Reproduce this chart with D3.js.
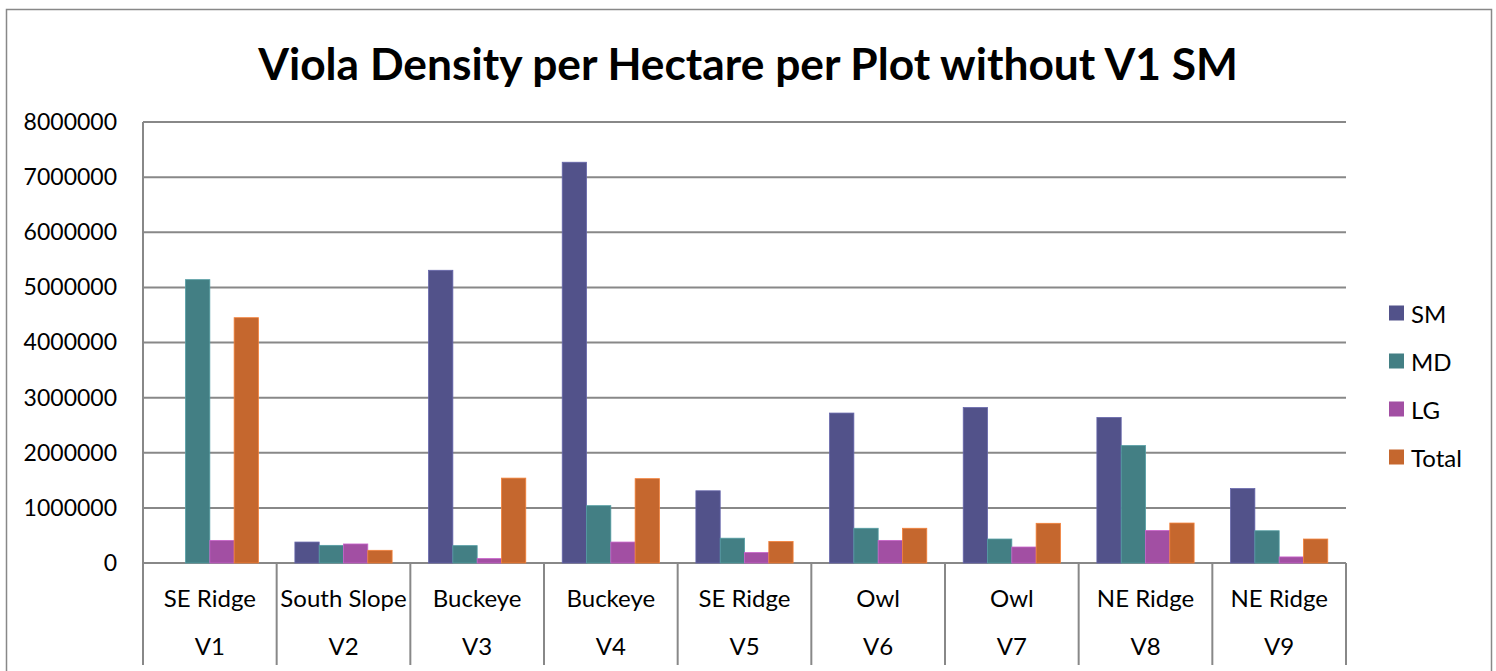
<!DOCTYPE html>
<html>
<head>
<meta charset="utf-8">
<script src="https://cdn.jsdelivr.net/npm/d3@7/dist/d3.min.js"></script>
<style>
  html, body { margin: 0; padding: 0; background: #fff; }
  svg { display: block; }
  text { font-family: Lato, "Open Sans", sans-serif; fill: #000; }
</style>
</head>
<body>
<svg id="chart" width="1496" height="671"></svg>
<script>
// ---- data ----
const plots = ["V1", "V2", "V3", "V4", "V5", "V6", "V7", "V8", "V9"];
const sites = ["SE Ridge", "South Slope", "Buckeye", "Buckeye", "SE Ridge", "Owl", "Owl", "NE Ridge", "NE Ridge"];
const seriesNames = ["SM", "MD", "LG", "Total"];
const smValues    = [0, 380000, 5310000, 7270000, 1310000, 2720000, 2820000, 2640000, 1350000];
const mdValues    = [5140000, 320000, 315000, 1040000, 450000, 630000, 435000, 2130000, 585000];
const lgValues    = [410000, 345000, 80000, 380000, 190000, 410000, 290000, 590000, 110000];
const totalValues = [4450000, 230000, 1540000, 1530000, 390000, 630000, 720000, 725000, 435000];
const yTicks = [0, 1000000, 2000000, 3000000, 4000000, 5000000, 6000000, 7000000, 8000000];
const seriesColors = ["#52528A", "#437F84", "#A24FA3", "#C5672E"];
const titleText = "Viola Density per Hectare per Plot without V1 SM";

const seriesValues = [smValues, mdValues, lgValues, totalValues];

// ---- layout ----
const svg = d3.select("#chart");
const plotLeft = 143, plotRight = 1346, plotTop = 122, plotBottom = 563;
const catBottom = 665;
const gridColor = "#888888";

// outer border
svg.append("rect")
  .attr("x", 6.5).attr("y", 9.5).attr("width", 1485).attr("height", 700)
  .attr("fill", "none").attr("stroke", gridColor).attr("stroke-width", 1.5);

const x = d3.scaleBand().domain(plots).range([plotLeft, plotRight]).paddingInner(0).paddingOuter(0);
const xs = d3.scaleBand().domain(seriesNames).range([0, x.bandwidth()]).paddingInner(0).paddingOuter(0.75);
const y = d3.scaleLinear().domain([0, 8000000]).range([plotBottom, plotTop]);

// gridlines
svg.append("g").selectAll("line").data(yTicks).join("line")
  .attr("x1", plotLeft).attr("x2", plotRight)
  .attr("y1", d => y(d)).attr("y2", d => y(d))
  .attr("stroke", gridColor).attr("stroke-width", 2);

// bars
const groups = svg.append("g").selectAll("g").data(plots).join("g")
  .attr("transform", d => `translate(${x(d)},0)`);
groups.selectAll("rect")
  .data((p, i) => seriesNames.map((s, j) => ({ s, v: seriesValues[j][i], c: seriesColors[j] })))
  .join("rect")
  .attr("x", d => xs(d.s))
  .attr("width", xs.bandwidth())
  .attr("y", d => y(d.v))
  .attr("height", d => y(0) - y(d.v))
  .attr("fill", d => d.c)
  .attr("stroke", d => d3.color(d.c).brighter(0.6))
  .attr("stroke-width", d => d.v > 0 ? 0.8 : 0);

// y axis (left line + labels)
const yAxis = d3.axisLeft(y).tickValues(yTicks).tickFormat(d3.format("d")).tickSize(0).tickPadding(26);
const yg = svg.append("g").attr("transform", `translate(${plotLeft},0)`).call(yAxis);
yg.select(".domain").remove();
yg.selectAll("text").attr("font-size", 23).attr("font-family", "Lato, 'Open Sans', sans-serif").attr("fill", "#000");

svg.append("line")
  .attr("x1", plotLeft).attr("x2", plotLeft).attr("y1", plotTop).attr("y2", catBottom)
  .attr("stroke", gridColor).attr("stroke-width", 2);

// category separators
const bounds = plots.map(p => x(p) + x.bandwidth());
svg.append("g").selectAll("line").data(bounds).join("line")
  .attr("x1", d => d).attr("x2", d => d)
  .attr("y1", plotBottom).attr("y2", catBottom)
  .attr("stroke", gridColor).attr("stroke-width", 2);

// category labels
const lab = svg.append("g");
lab.selectAll("text.site").data(plots).join("text").attr("class", "site")
  .attr("x", d => x(d) + x.bandwidth() / 2).attr("y", 597)
  .attr("text-anchor", "middle").attr("dominant-baseline", "central")
  .attr("font-size", 24)
  .text((d, i) => sites[i]);
lab.selectAll("text.plot").data(plots).join("text").attr("class", "plot")
  .attr("x", d => x(d) + x.bandwidth() / 2).attr("y", 645)
  .attr("text-anchor", "middle").attr("dominant-baseline", "central")
  .attr("font-size", 24)
  .text(d => d);
// shrink labels that don't fit the band
lab.selectAll("text.site").each(function() {
  const w = this.getComputedTextLength();
  if (w > x.bandwidth() - 4) d3.select(this).attr("textLength", x.bandwidth() - 4).attr("lengthAdjust", "spacingAndGlyphs");
});

// legend
const leg = svg.append("g");
const legY = d3.scalePoint().domain(seriesNames).range([313, 457]);
leg.selectAll("rect").data(seriesNames).join("rect")
  .attr("x", 1389).attr("y", d => legY(d) - 7.5).attr("width", 15).attr("height", 15)
  .attr("fill", (d, i) => seriesColors[i]);
leg.selectAll("text").data(seriesNames).join("text")
  .attr("x", 1411).attr("y", d => legY(d)).attr("dominant-baseline", "central")
  .attr("font-size", 24).text(d => d);

// title
const title = svg.append("text")
  .attr("x", 748).attr("y", 62).attr("text-anchor", "middle").attr("dominant-baseline", "central")
  .attr("font-weight", "bold").attr("font-size", 44).text(titleText);
const tw = title.node().getComputedTextLength();
title.attr("font-size", 44 * 980 / tw);
</script>
</body>
</html>
